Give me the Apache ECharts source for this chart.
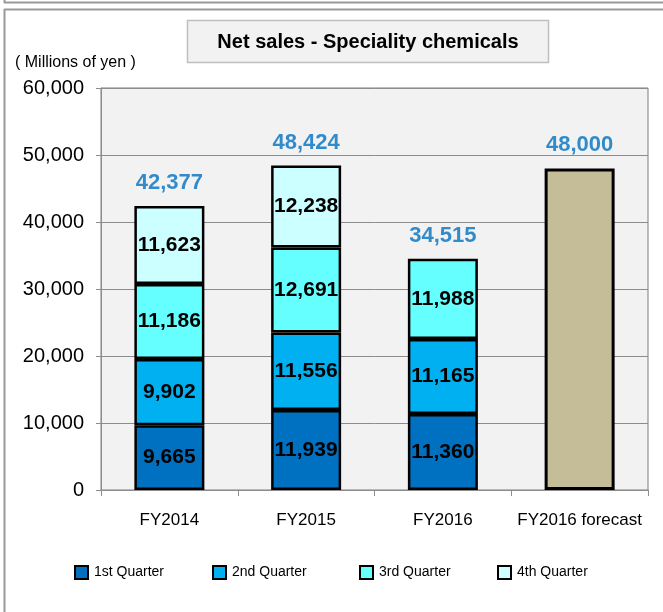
<!DOCTYPE html>
<html>
<head>
<meta charset="utf-8">
<script src="https://cdn.jsdelivr.net/npm/echarts@6/dist/echarts.min.js"></script>
<style>
  html, body {margin: 0; padding: 0; background: #fff;}
  #chart {width: 663px; height: 612px;}
</style>
</head>
<body>
<div id="chart"></div>
<script>
// data
var years = ['FY2014', 'FY2015', 'FY2016', 'FY2016 forecast'];
var q1 = [9665, 11939, 11360, '-'];
var q2 = [9902, 11556, 11165, '-'];
var q3 = [11186, 12691, 11988, '-'];
var q4 = [11623, 12238, '-', '-'];
var forecast = ['-', '-', '-', 48000];
var totals = [42377, 48424, 34515, 48000];
var quarterNames = ['1st Quarter', '2nd Quarter', '3rd Quarter', '4th Quarter'];

var sans = '"Liberation Sans", Arial, sans-serif';

function fmt(v) {
    return Number(v).toLocaleString('en-US');
}

function quarter(name, data, color) {
    return {
        name: name,
        type: 'bar',
        stack: 'a',
        barWidth: 70,
        data: data,
        itemStyle: {
            color: color,
            borderColor: '#000',
            borderWidth: 2.5
        },
        label: {
            show: true,
            position: 'inside',
            formatter: function (p) { return fmt(p.value); },
            fontFamily: sans,
            fontWeight: 'bold',
            fontSize: 21,
            color: '#000'
        }
    };
}

// one legend per item so the spacing can follow the original
var legendLeft = [74, 212, 359, 497];
var legends = quarterNames.map(function (n, i) {
    return {
        data: [n],
        left: legendLeft[i],
        top: 565,
        padding: 0,
        itemWidth: 13,
        itemHeight: 13,
        icon: 'rect',
        itemStyle: {borderColor: '#000', borderWidth: 2},
        textStyle: {fontFamily: sans, fontSize: 14, color: '#000', padding: [0, 0, 0, 1]}
    };
});

var myChart = echarts.init(document.getElementById('chart'));
var option = {
    animation: false,
    backgroundColor: '#fff',
    grid: {
        left: 101,
        right: 15,
        top: 88,
        bottom: 122,
        show: true,
        backgroundColor: '#f2f2f2',
        borderColor: '#7f7f7f',
        borderWidth: 1
    },
    legend: legends,
    xAxis: {
        type: 'category',
        data: years,
        axisLine: {lineStyle: {color: '#8c8c8c', width: 1}},
        axisTick: {show: true, length: 6, lineStyle: {color: '#8c8c8c'}},
        axisLabel: {
            fontFamily: sans,
            fontSize: 17,
            color: '#000',
            margin: 22,
            interval: 0
        }
    },
    yAxis: {
        type: 'value',
        min: 0,
        max: 60000,
        interval: 10000,
        axisLine: {show: true, lineStyle: {color: '#8c8c8c'}},
        axisTick: {show: true, length: 5, lineStyle: {color: '#8c8c8c'}},
        splitLine: {lineStyle: {color: '#8c8c8c', width: 1}},
        axisLabel: {
            fontFamily: sans,
            fontSize: 20,
            color: '#000',
            margin: 17,
            formatter: function (v) { return fmt(v); }
        }
    },
    series: [
        quarter(quarterNames[0], q1, '#0070C0'),
        quarter(quarterNames[1], q2, '#00B0F0'),
        quarter(quarterNames[2], q3, '#66FFFF'),
        quarter(quarterNames[3], q4, '#CCFFFF'),
        {
            name: 'Forecast',
            type: 'bar',
            stack: 'a',
            barWidth: 70,
            data: forecast,
            itemStyle: {color: '#C4BD97', borderColor: '#000', borderWidth: 3}
        },
        {
            name: 'Total',
            type: 'scatter',
            symbolSize: 0,
            data: totals,
            label: {
                show: true,
                position: 'top',
                distance: 12,
                formatter: function (p) { return fmt(p.value); },
                fontFamily: sans,
                fontWeight: 'bold',
                fontSize: 22,
                color: '#0070C0'
            }
        }
    ],
    graphic: [
        // outer frame lines
        {type: 'line', shape: {x1: 4, y1: 2.5, x2: 663, y2: 2.5}, style: {stroke: '#999', lineWidth: 2}},
        {type: 'line', shape: {x1: 4.5, y1: 0, x2: 4.5, y2: 3}, style: {stroke: '#999', lineWidth: 2}},
        {type: 'line', shape: {x1: 4, y1: 9.5, x2: 663, y2: 9.5}, style: {stroke: '#999', lineWidth: 2}},
        {type: 'line', shape: {x1: 4.5, y1: 9, x2: 4.5, y2: 612}, style: {stroke: '#999', lineWidth: 2}},
        // title box
        {
            type: 'rect',
            shape: {x: 187.5, y: 20.5, width: 361, height: 42},
            style: {fill: '#f2f2f2', stroke: '#bfbfbf', lineWidth: 1.5}
        },
        {
            type: 'text',
            x: 368,
            y: 42,
            style: {
                text: 'Net sales - Speciality chemicals',
                fontFamily: sans,
                fontWeight: 'bold',
                fontSize: 20,
                fill: '#000',
                align: 'center',
                verticalAlign: 'middle'
            }
        },
        {
            type: 'text',
            x: 15,
            y: 63,
            style: {
                text: '( Millions of yen )',
                fontFamily: sans,
                fontSize: 16,
                fill: '#000',
                align: 'left',
                verticalAlign: 'middle'
            }
        }
    ]
};
myChart.setOption(option);
</script>
</body>
</html>
